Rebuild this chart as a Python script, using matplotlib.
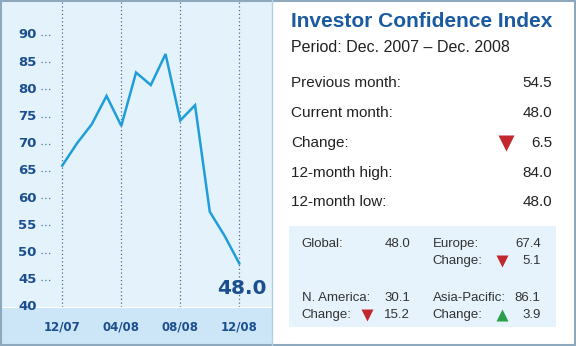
import matplotlib
matplotlib.use("Agg")
from matplotlib import pyplot as plt
from matplotlib.patches import Rectangle

# monthly index, Dec 2007 .. Dec 2008
month_idx = list(range(13))
index_values = [66.0, 70.1, 73.6, 78.8, 73.3, 83.1, 80.8, 86.5, 74.3, 77.1, 57.5, 53.1, 48.0]
tick_months = [0, 4, 8, 12]
tick_labels = ["12/07", "04/08", "08/08", "12/08"]
y_ticks = [40, 45, 50, 55, 60, 65, 70, 75, 80, 85, 90]
last_label = "48.0"

title = "Investor Confidence Index"
period = "Period: Dec. 2007 \u2013 Dec. 2008"
row_names = ["Previous month:", "Current month:", "Change:", "12-month high:", "12-month low:"]
row_values = ["54.5", "48.0", "6.5", "84.0", "48.0"]
row_arrows = [None, None, "down", None, None]

regions = ["Global:", "Europe:", "N. America:", "Asia-Pacific:"]
region_values = ["48.0", "67.4", "30.1", "86.1"]
region_changes = [None, "5.1", "15.2", "3.9"]
region_arrows = [None, "down", "down", "up"]

DARK = "#1b4f8f"
TITLE = "#1a5aa0"
LINE = "#1f9ed9"
PANEL = "#e4f2fc"
BAND = "#cde6f7"
BORDER = "#8ea8bd"
RED = "#c1272d"
GREEN = "#2a9e48"
SANS = ["Liberation Sans", "DejaVu Sans"]

W, H = 576, 346
fig = plt.figure(figsize=(W / 100, H / 100), dpi=100)

# background layer in pixel coordinates (origin top-left)
bg = fig.add_axes([0, 0, 1, 1], zorder=0)
bg.set_xlim(0, W)
bg.set_ylim(H, 0)
bg.axis("off")
bg.add_patch(Rectangle((0, 0), 272, 307, facecolor=PANEL, edgecolor="none"))
bg.add_patch(Rectangle((0, 308), 272, 38, facecolor=BAND, edgecolor="none"))
bg.plot([272, 272], [0, H], color="#b3cfe4", lw=1)
bg.add_patch(Rectangle((0.75, 0.75), W - 1.5, H - 1.5, facecolor="none", edgecolor=BORDER, lw=1.5))

# chart
panel_w, panel_h = 272, 307
x0_px, px_per_month = 62.3, 14.75
px_per_unit = 5.44
ax = fig.add_axes([0, (H - panel_h) / H, panel_w / W, panel_h / H], zorder=1)
ax.set_facecolor("none")
ax.set_xlim(-x0_px / px_per_month, (panel_w - x0_px) / px_per_month)
ax.set_ylim(40, 40 + panel_h / px_per_unit)
for s in ax.spines.values():
    s.set_visible(False)
ax.set_xticks([])
ax.set_yticks([])

for m in tick_months:
    ax.axvline(m, color="#4a6f96", lw=0.9, ls=(0, (1, 2)), zorder=1)

ax.plot(month_idx, index_values, color=LINE, lw=1.8, zorder=3, solid_joinstyle="miter")

xl = ax.get_xlim()[0]
for v in y_ticks:
    ax.text(xl + 36.5 / px_per_month, v, str(v), ha="right", va="center",
            fontsize=9.5, color=DARK, fontweight="bold", zorder=4)
    if v > 40:
        ax.plot([xl + 41 / px_per_month, xl + 52 / px_per_month], [v, v],
                color="#4a6f96", lw=0.9, ls=(0, (1, 2)))

ax.text(month_idx[-1] + 0.2, 41.6, last_label, ha="center", va="bottom", fontsize=14.5,
        fontweight="bold", color=DARK, zorder=4)

for m, lab in zip(tick_months, tick_labels):
    bg.text(x0_px + m * px_per_month, 327, lab, ha="center", va="center",
            fontsize=8.5, fontweight="bold", color=DARK)

# summary panel
bg.text(291, 27, title, ha="left", va="baseline", fontsize=15, fontweight="bold",
        color=TITLE, family=SANS)
bg.text(291, 52, period, ha="left", va="baseline", fontsize=11.5, color="#222222", family=SANS)

row_y = [83, 113, 143, 173, 202]
for y, name, val, arrow in zip(row_y, row_names, row_values, row_arrows):
    bg.text(291, y, name, ha="left", va="center", fontsize=11, color="#222222", family=SANS)
    bg.text(552, y, val, ha="right", va="center", fontsize=11, color="#222222", family=SANS)
    if arrow:
        bg.plot(505.5, y, marker="v", ms=12, color=RED, mec="none")

bg.add_patch(Rectangle((289, 226), 267, 101, facecolor="#e6f3fc", edgecolor="none"))
name_x = [301.7, 432.7, 301.7, 432.7]
val_x = [410, 540.7, 410, 540.7]
tri_x = [None, 501.7, 367.3, 501.7]
base_y = [244, 244, 298, 298]
for i in range(4):
    y = base_y[i]
    bg.text(name_x[i], y, regions[i], ha="left", va="center", fontsize=9.5, color="#333333", family=SANS)
    bg.text(val_x[i], y, region_values[i], ha="right", va="center", fontsize=9.5, color="#333333", family=SANS)
    if region_changes[i]:
        y2 = y + 17
        bg.text(name_x[i], y2, "Change:", ha="left", va="center", fontsize=9.5, color="#333333", family=SANS)
        bg.text(val_x[i], y2, region_changes[i], ha="right", va="center", fontsize=9.5, color="#333333", family=SANS)
        color = RED if region_arrows[i] == "down" else GREEN
        marker = "v" if region_arrows[i] == "down" else "^"
        bg.plot(tri_x[i], y2, marker=marker, ms=9, color=color, mec="none")

fig.savefig("out.png", dpi=100)
